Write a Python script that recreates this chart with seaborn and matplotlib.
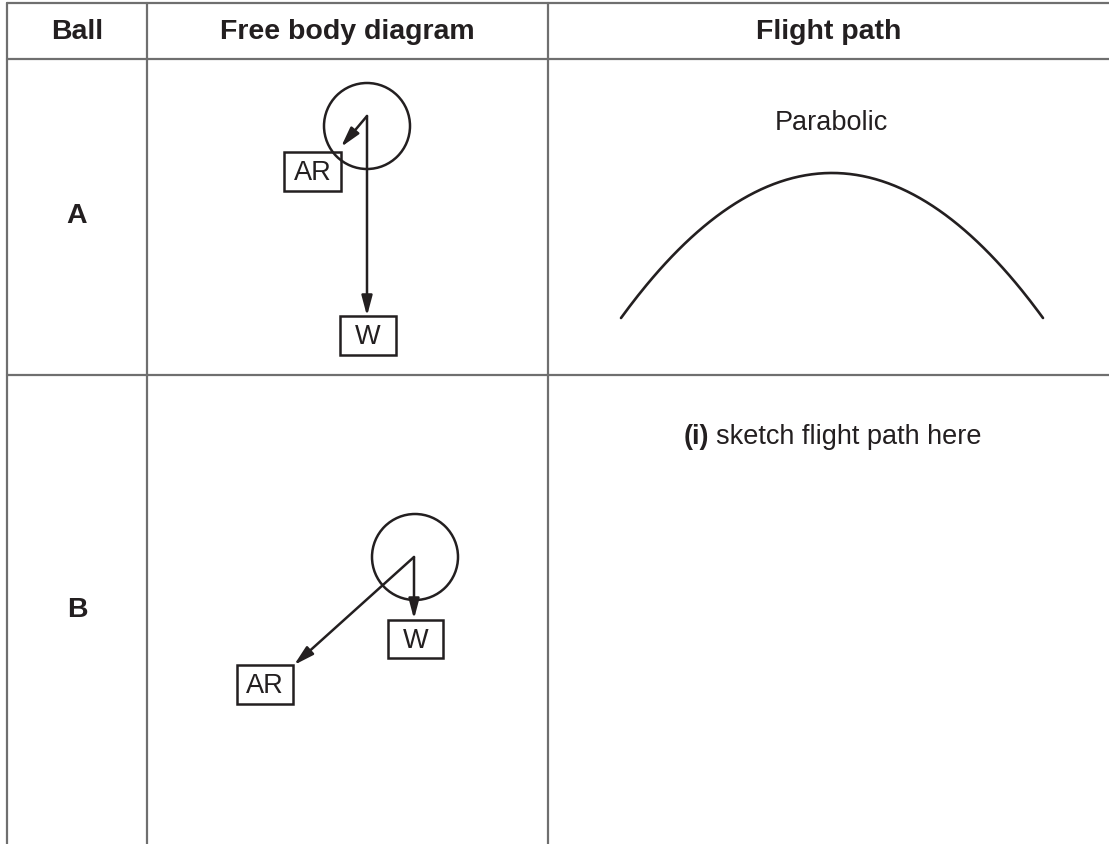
import numpy as np
import pandas as pd
import matplotlib
matplotlib.use("Agg")
import matplotlib.pyplot as plt
from matplotlib.patches import Circle, Rectangle
import seaborn as sns

# table layout (pixel units, y down)
col_edges = [7, 147, 548, 1109]
row_edges = [4, 60, 376, 845]
headers = ["Ball", "Free body diagram", "Flight path"]
balls = ["A", "B"]
ball_label_y = [216, 610]

# free body diagrams: ball centre, radius, force tips, label boxes (x0, y0, x1, y1)
ball_centres = [(367, 127), (415, 558)]
ball_radius = [43, 43]
force_origin = [(367, 117), (414, 558)]
weight_tip = [(367, 317), (414, 620)]
drag_tip = [(341, 148), (294, 666)]
weight_box = [(340, 317, 396, 356), (388, 621, 443, 659)]
drag_box = [(284, 153, 341, 192), (237, 666, 293, 705)]

# flight path of ball A: ends and apex
path_x = [621, 830, 1043]
path_y = [319, 174, 319]
path_caption = ["Parabolic", "sketch flight path here"]
caption_y = [123, 437]

sns.set_theme(style="white")
plt.rcParams["font.family"] = ["Liberation Sans", "DejaVu Sans"]

fig = plt.figure(figsize=(11.09, 8.45), dpi=100)
ax = fig.add_axes([0, 0, 1, 1])

line_kw = dict(color="#6f6f6f", linewidth=1.6)
# horizontal rules
for y in row_edges[:-1]:
    ax.plot([col_edges[0], col_edges[-1]], [y, y], **line_kw)
# vertical rules (no right border, open at the bottom)
for x in col_edges[:-1]:
    ax.plot([x, x], [row_edges[0], row_edges[-1]], **line_kw)

ink = "#231f20"

# header text
for i, h in enumerate(headers):
    ax.text((col_edges[i] + col_edges[i + 1]) / 2, (row_edges[0] + row_edges[1]) / 2, h,
            ha="center", va="center", fontsize=20.5, fontweight="bold", color=ink)

for i, b in enumerate(balls):
    ax.text((col_edges[0] + col_edges[1]) / 2, ball_label_y[i], b, ha="center", va="center",
            fontsize=20.5, fontweight="bold", color=ink)

    ax.add_patch(Circle(ball_centres[i], ball_radius[i], fill=False, edgecolor=ink, linewidth=1.8))

    for tip, box, lab in [(weight_tip[i], weight_box[i], "W"), (drag_tip[i], drag_box[i], "AR")]:
        ax.annotate("", xy=tip, xytext=force_origin[i],
                    arrowprops=dict(arrowstyle="-|>,head_length=0.6,head_width=0.16", color=ink,
                                    lw=1.8, mutation_scale=20, shrinkA=0, shrinkB=0))
        x0, y0, x1, y1 = box
        ax.add_patch(Rectangle((x0, y0), x1 - x0, y1 - y0, fill=False, edgecolor=ink, linewidth=1.8))
        ax.text((x0 + x1) / 2, (y0 + y1) / 2 + 1, lab, ha="center", va="center",
                fontsize=19.5, color=ink)

# parabola through the three read points
coef = np.polyfit(path_x, path_y, 2)
xs = np.linspace(path_x[0], path_x[-1], 200)
df = pd.DataFrame({"x": xs, "y": np.polyval(coef, xs)})
sns.lineplot(data=df, x="x", y="y", ax=ax, color=ink, linewidth=1.9, sort=False)

ax.set_xlim(0, 1109)
ax.set_ylim(845, 0)
ax.axis("off")

cx = (col_edges[2] + col_edges[3]) / 2 + 3
ax.text(cx, caption_y[0], path_caption[0], ha="center", va="center", fontsize=19.5, color=ink)
t = ax.text(cx + 17, caption_y[1], path_caption[1], ha="center", va="center", fontsize=19.5, color=ink)
fig.canvas.draw()
bb = t.get_window_extent().transformed(ax.transData.inverted())
ax.text(bb.x0 - 7, caption_y[1], "(i)", ha="right", va="center", fontsize=19.5,
        fontweight="bold", color=ink)

fig.savefig("out.png", dpi=100, facecolor="white")
